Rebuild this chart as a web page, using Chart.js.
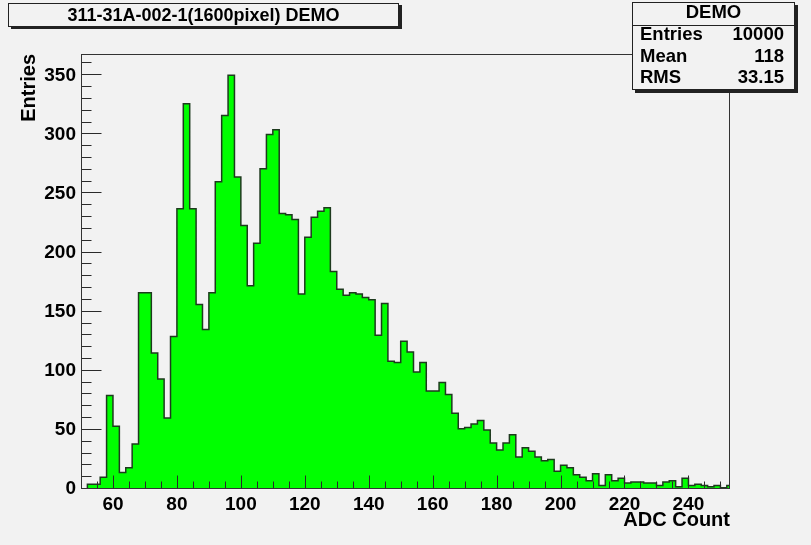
<!DOCTYPE html>
<html>
<head>
<meta charset="utf-8">
<script src="https://cdn.jsdelivr.net/npm/chart.js@4.4.1/dist/chart.umd.min.js"></script>
<style>
html,body{margin:0;padding:0;background:#f2f2f2;}
#wrap{position:relative;width:811px;height:545px;overflow:hidden;background:#f2f2f2;font-family:"Liberation Sans",Arial,sans-serif;font-weight:bold;color:#000;}
#chart{position:absolute;left:0;top:0;}
#title{position:absolute;left:8px;top:3px;width:391px;height:24px;box-sizing:border-box;border:1px solid #222;background:#f2f2f2;box-shadow:3px 2px 0 #222;font-size:18px;line-height:22px;text-align:center;white-space:nowrap;}
#stats{position:absolute;left:632px;top:2px;width:163px;height:88px;box-sizing:border-box;border:1px solid #222;background:#f2f2f2;box-shadow:3px 3px 0 #222;font-size:18.5px;}
#stats .sep{position:absolute;left:0;right:0;top:22px;height:1px;background:#222;}
#stats .row{position:absolute;left:7px;right:10px;height:20px;line-height:20px;white-space:nowrap;}
#stats .hdr{position:absolute;left:0;right:0;top:-1px;height:20px;line-height:20px;text-align:center;}
#stats .lab{position:absolute;left:0;top:0;}
#stats .val{position:absolute;right:0;top:0;}
</style>
</head>
<body>
<div id="wrap">
<canvas id="chart" width="811" height="545"></canvas>
<div id="title"></div>
<div id="stats"></div>
</div>
<script>
// ---- data ----
const histTitle = '311-31A-002-1(1600pixel) DEMO';
const statsName = 'DEMO';
const statsLabels = ['Entries', 'Mean', 'RMS'];
const statsValues = ['10000', '118', '33.15'];
const binEdges = [50,52,54,56,58,60,62,64,66,68,70,72,74,76,78,80,82,84,86,88,90,92,94,96,98,
  100,102,104,106,108,110,112,114,116,118,120,122,124,126,128,130,132,134,136,138,140,142,144,146,148,
  150,152,154,156,158,160,162,164,166,168,170,172,174,176,178,180,182,184,186,188,190,192,194,196,198,
  200,202,204,206,208,210,212,214,216,218,220,222,224,226,228,230,232,234,236,238,240,242,244,246,248,250,252];
const lastEdge = 254;
const counts = [0,4,4,10,79,53,14,18,38,166,166,115,93,60,129,237,326,237,156,135,166,260,316,350,264,
  223,172,208,271,300,304,233,232,228,165,213,230,235,238,184,169,164,166,165,162,160,130,157,108,107,
  125,116,99,107,83,83,90,80,64,51,52,55,58,50,39,33,39,46,27,35,32,27,24,25,15,
  20,18,12,10,7,13,3,12,7,9,5,6,6,5,5,3,6,7,2,9,3,4,3,2,3,1,3];
const xTicks = [60,80,100,120,140,160,180,200,220,240];
const yTicks = [0,50,100,150,200,250,300,350];
const xTitle = 'ADC Count';
const yTitle = 'Entries';

// ---- overlays (title pave and stats box) ----
document.getElementById('title').textContent = histTitle;
const st = document.getElementById('stats');
const stTops = [20.6, 43.4, 64.4];
let html = '<div class="hdr">' + statsName + '</div><div class="sep"></div>';
statsLabels.forEach((l, i) => {
  html += '<div class="row" style="top:' + stTops[i] + 'px"><span class="lab">' + l + '</span><span class="val">' + statsValues[i] + '</span></div>';
});
st.innerHTML = html;

// ---- histogram points (step outline: each bin drawn from its left edge) ----
const points = binEdges.map((e, i) => ({x: e, y: counts[i]}));
points.push({x: lastEdge, y: counts[counts.length - 1]});

const tickFont = {family: 'Liberation Sans', size: 19, weight: 'bold'};
const titleFont = {family: 'Liberation Sans', size: 20, weight: 'bold'};

const axisDecor = {
  id: 'axisDecor',
  afterDatasetsDraw(chart) {
    const {ctx, chartArea: a, scales: {x, y}} = chart;
    const L = Math.round(a.left) + 0.5, R = Math.round(a.right) - 0.5;
    const T = Math.round(a.top) + 0.5, B = Math.round(a.bottom) - 0.5;
    ctx.save();
    ctx.lineWidth = 1;
    ctx.strokeStyle = '#2a2a2a';
    ctx.beginPath();
    for (let v = 0; v <= y.max; v += 10) {
      const p = Math.round(y.getPixelForValue(v)) - 0.5;
      const len = (v % 50 === 0) ? 20 : 10;
      ctx.moveTo(L, p); ctx.lineTo(L + len, p);
    }
    for (let v = 55; v < x.max; v += 5) {
      const p = Math.round(x.getPixelForValue(v)) + 0.5;
      const len = (v % 20 === 0) ? 13 : 7;
      ctx.moveTo(p, B); ctx.lineTo(p, B - len);
    }
    ctx.stroke();
    ctx.strokeStyle = '#333';
    ctx.strokeRect(L, T, R - L, B - T);
    ctx.restore();
  }
};

new Chart(document.getElementById('chart'), {
  type: 'line',
  data: {
    datasets: [{
      data: points,
      stepped: 'before',
      fill: 'origin',
      backgroundColor: '#00ff00',
      borderColor: '#1e3a1e',
      borderWidth: 1.5,
      pointRadius: 0,
      tension: 0
    }]
  },
  options: {
    responsive: false,
    animation: false,
    devicePixelRatio: 1,
    layout: {padding: {top: 54, right: 81, left: 0, bottom: 0}},
    plugins: {legend: {display: false}, tooltip: {enabled: false}, title: {display: false}},
    scales: {
      x: {
        type: 'linear', min: 50, max: 253,
        grid: {display: false, drawTicks: false},
        border: {display: false},
        afterBuildTicks: s => { s.ticks = xTicks.map(v => ({value: v})); },
        afterFit: s => { s.height = 56; },
        ticks: {autoSkip: false, maxRotation: 0, minRotation: 0, padding: 4, color: '#000', font: tickFont},
        title: {display: true, text: xTitle, align: 'end', color: '#000', font: titleFont, padding: {top: 0, bottom: 13}}
      },
      y: {
        type: 'linear', min: 0, max: 368,
        grid: {display: false, drawTicks: false},
        border: {display: false},
        afterBuildTicks: s => { s.ticks = yTicks.map(v => ({value: v})); },
        afterFit: s => { s.width = 81; },
        ticks: {autoSkip: false, padding: 5, color: '#000', font: tickFont},
        title: {display: true, text: yTitle, align: 'end', color: '#000', font: titleFont, padding: {top: 17, bottom: 0}}
      }
    }
  },
  plugins: [axisDecor]
});
</script>
</body>
</html>
